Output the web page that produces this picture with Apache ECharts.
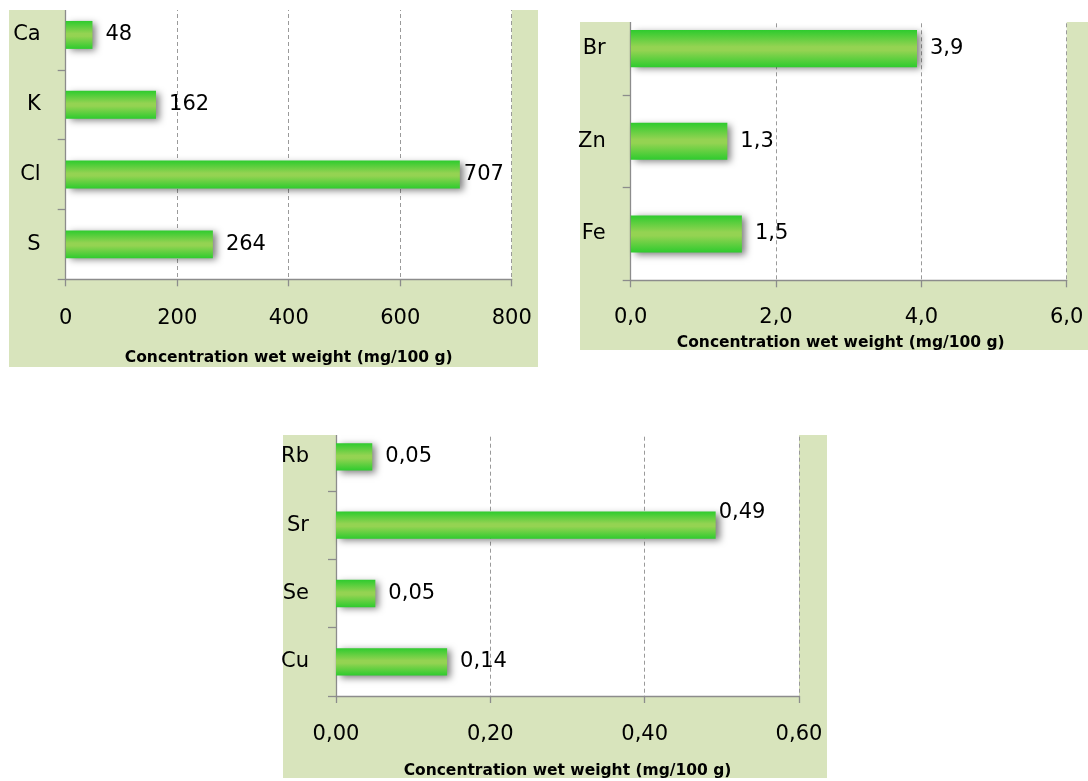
<!DOCTYPE html>
<html>
<head>
<meta charset="utf-8">
<script src="https://cdn.jsdelivr.net/npm/echarts@6/dist/echarts.min.js"></script>
<style>
html,body{margin:0;padding:0;background:#fff;}
#c{width:1088px;height:781px;}
</style>
</head>
<body>
<div id="c"></div>
<script>
// ---- data ----
var catsA = ['Ca', 'K', 'Cl', 'S'];
var valsA = [48, 162, 707, 264];
var catsB = ['Br', 'Zn', 'Fe'];
var valsB = [3.94, 1.33, 1.53];
var catsC = ['Rb', 'Sr', 'Se', 'Cu'];
var valsC = [0.047, 0.492, 0.051, 0.144];
var axisTitle = 'Concentration wet weight (mg/100 g)';

// ---- layout ----
var panels = [
  {grid: {left: 65.7, top: -2, width: 446, height: 281.3}, bg: {x: 9, y: 10, w: 529, h: 357}, cover: {x: 0, y: -20, w: 560, h: 30},
   max: 800, interval: 200, dec: 0, labMargin: 29, catMargin: 25, nameGap: 71, namePad: [0,0,0,0]},
  {grid: {left: 630.7, top: 2.3, width: 436, height: 278}, bg: {x: 580, y: 22, w: 508, h: 328}, cover: {x: 565, y: -20, w: 530, h: 42},
   max: 6, interval: 2, dec: 1, labMargin: 27, catMargin: 25, nameGap: 55, namePad: [0,16,0,0]},
  {grid: {left: 336, top: 422.7, width: 463, height: 273.3}, bg: {x: 283, y: 435, w: 544, h: 343}, cover: {x: 270, y: 400, w: 570, h: 35},
   max: 0.6, interval: 0.2, dec: 2, labMargin: 28, catMargin: 27, nameGap: 67, namePad: [0,0,0,0]}
];
var cats = [catsA, catsB, catsC];
var vals = [valsA, valsB, valsC];

var FONT = 'DejaVu Sans';
var green = '#d8e4bc';
function fmt(v, d) { return Number(v).toFixed(d).replace('.', ','); }

var barColor = {
  type: 'linear', x: 0, y: 0, x2: 0, y2: 1,
  colorStops: [
    {offset: 0, color: '#2ecb2e'},
    {offset: 0.45, color: '#94d352'},
    {offset: 0.55, color: '#94d352'},
    {offset: 1, color: '#2ecb2e'}
  ]
};

var grids = [], xAxes = [], yAxes = [], series = [], graphics = [];
panels.forEach(function (p, i) {
  grids.push({left: p.grid.left, top: p.grid.top, width: p.grid.width, height: p.grid.height, containLabel: false});
  graphics.push({type: 'rect', z: -100, silent: true, shape: {x: p.bg.x, y: p.bg.y, width: p.bg.w, height: p.bg.h}, style: {fill: green}});
  graphics.push({type: 'rect', z: -99, silent: true, shape: {x: p.grid.left, y: p.grid.top, width: p.grid.width, height: p.grid.height}, style: {fill: '#ffffff'}});
  graphics.push({type: 'rect', z: 100, silent: true, shape: {x: p.cover.x, y: p.cover.y, width: p.cover.w, height: p.cover.h}, style: {fill: '#ffffff'}});
  xAxes.push({
    type: 'value', gridIndex: i, min: 0, max: p.max, interval: p.interval,
    axisLine: {show: true, lineStyle: {color: '#8c8c8c', width: 1.3}},
    axisTick: {show: true, length: 7, lineStyle: {color: '#8c8c8c', width: 1.3}},
    splitLine: {show: true, lineStyle: {color: '#9a9a9a', type: [4, 3], width: 1}},
    axisLabel: {color: '#000', fontFamily: FONT, fontSize: 21, margin: p.labMargin,
      formatter: (function (d) { return function (v) { return fmt(v, d); }; })(p.dec)},
    name: axisTitle, nameLocation: 'middle', nameGap: p.nameGap,
    nameTextStyle: {color: '#000', fontFamily: FONT, fontSize: 15.5, fontWeight: 'bold', padding: p.namePad}
  });
  yAxes.push({
    type: 'category', gridIndex: i, data: cats[i], inverse: true,
    axisLine: {show: true, lineStyle: {color: '#8c8c8c', width: 1.3}},
    axisTick: {show: true, length: 8, lineStyle: {color: '#8c8c8c', width: 1.3}},
    axisLabel: {color: '#000', fontFamily: FONT, fontSize: 21, margin: p.catMargin},
    splitLine: {show: false}
  });
  var dec = p.dec;
  var data = vals[i].map(function (v, j) {
    var item = {value: v};
    if (i === 0 && j === 2) item.label = {distance: 4};
    if (i === 2 && j === 1) item.label = {distance: 3, offset: [0, -13]};
    return item;
  });
  series.push({
    type: 'bar', xAxisIndex: i, yAxisIndex: i, barWidth: '40%', data: data,
    itemStyle: {color: barColor, shadowBlur: 7, shadowColor: 'rgba(0,0,0,0.5)', shadowOffsetX: 4, shadowOffsetY: 2},
    label: {show: true, position: 'right', distance: 13, color: '#000', fontFamily: FONT, fontSize: 21,
      formatter: (function (d) { return function (pr) { return fmt(pr.value, d); }; })(dec)},
    animation: false
  });
});

var chart = echarts.init(document.getElementById('c'), null, {renderer: 'canvas'});
chart.setOption({
  backgroundColor: '#ffffff',
  animation: false,
  grid: grids,
  xAxis: xAxes,
  yAxis: yAxes,
  series: series,
  graphic: {elements: graphics}
});
</script>
</body>
</html>
